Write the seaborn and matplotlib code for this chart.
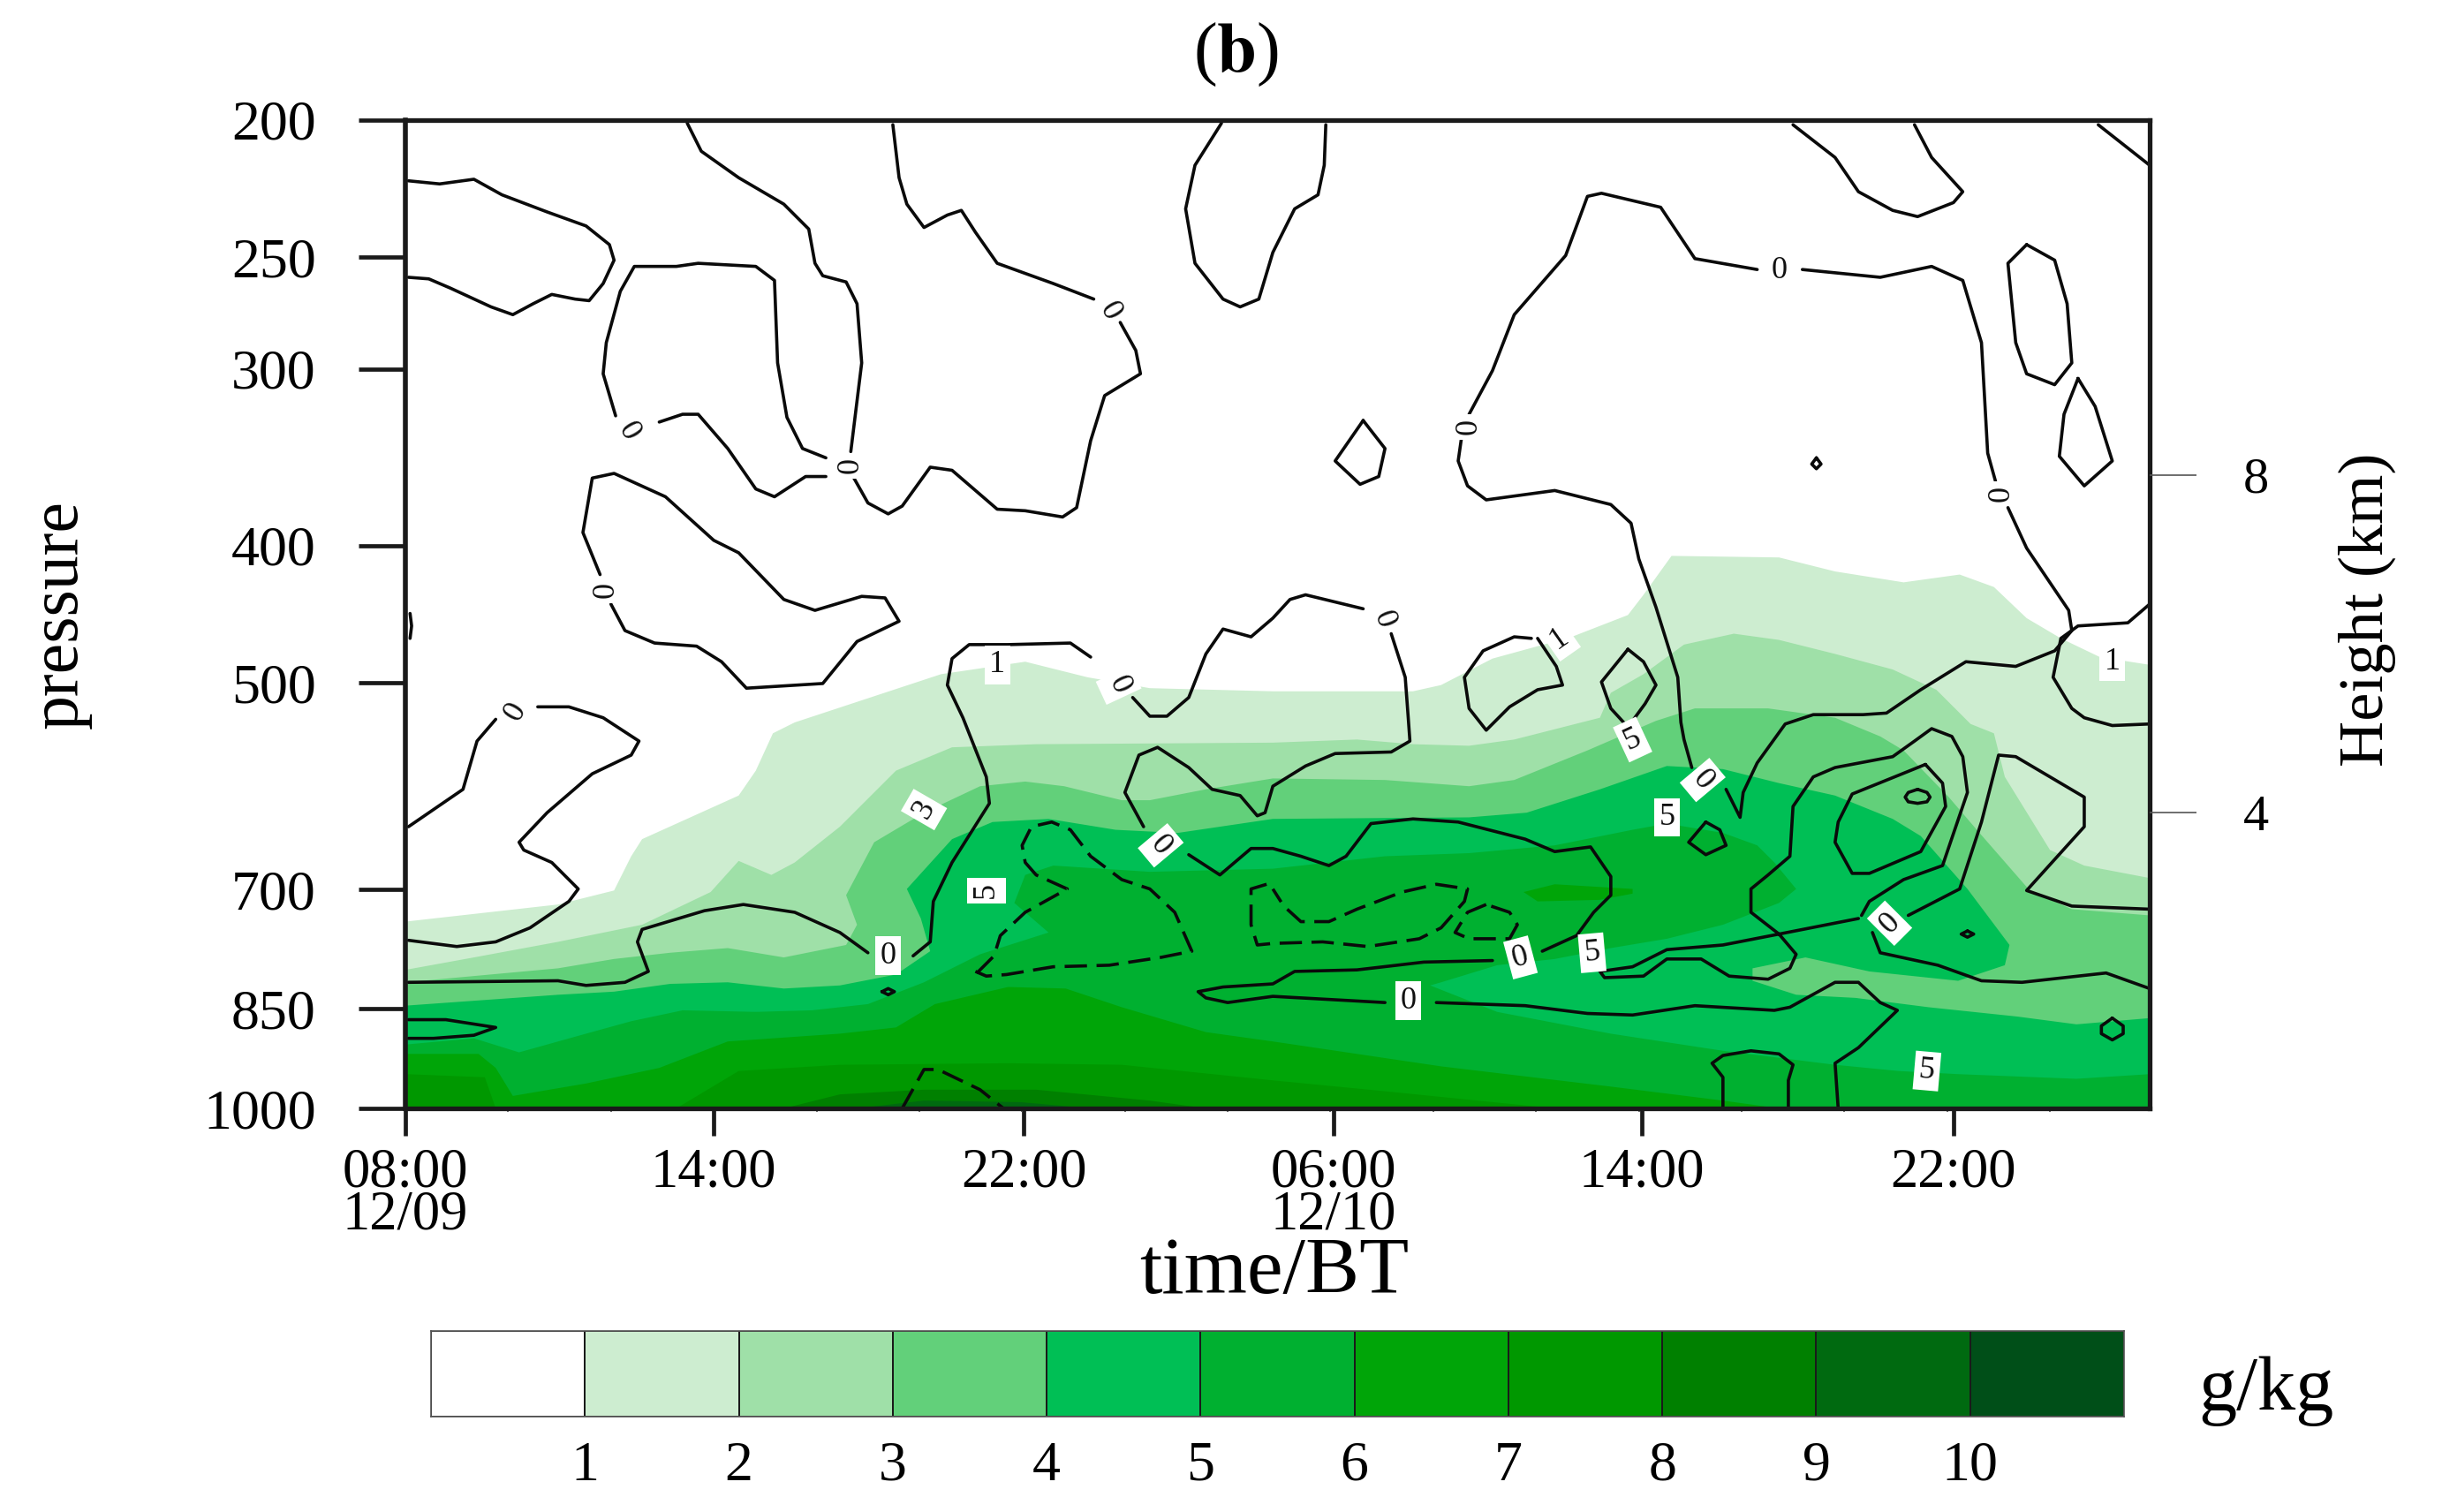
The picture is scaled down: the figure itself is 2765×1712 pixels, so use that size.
import numpy as np
import matplotlib
matplotlib.use("Agg")
import matplotlib.pyplot as plt
from matplotlib.colors import ListedColormap
from matplotlib.ticker import NullFormatter, FixedLocator
import seaborn as sns

# ---- axis values ------------------------------------------------------------
pressure_ticks = [200, 250, 300, 400, 500, 700, 850, 1000]
time_steps = [0, 198, 397, 596, 794, 994]
time_labels = ["08:00\n12/09", "14:00", "22:00", "06:00\n12/10", "14:00", "22:00"]
height_labels = ["8", "4"]
height_zeta = [407, 190]          # log-pressure height of the 8 km and 4 km marks
level_labels = ["1", "2", "3", "4", "5", "6", "7", "8", "9", "10"]
level_colors = ["#FFFFFF", "#CDEDD0", "#9FE0A8", "#62D07A", "#00BF55", "#00B030",
                "#00A508", "#009800", "#008000", "#006A10", "#004F18"]

# ---- shaded field: isolines as (time step, log-pressure height 0..635) --------
g1 = [(0,120),(98,131),(134,140),(145,162),(152,173),(214,201),(225,217),(236,241),(250,248),(344,279),(398,287),(438,277),(478,270),(557,268),(647,268),(665,272),(698,289),(749,303),(785,317),(795,330),(813,355),(882,354),(918,345),(962,338),(998,343),(1020,335),(1041,315),(1063,302),(1088,290),(1120,285),(1120,0),(0,0)]
g2 = [(0,89),(44,97),(98,107),(152,118),(196,139),(214,159),(235,150),(250,158),(279,181),(315,217),(351,232),(405,234),(557,235),(611,237),(647,234),(683,233),(712,237),(767,251),(774,267),(795,279),(821,298),(853,305),(882,301),(918,292),(955,282),(983,269),(1005,247),(1020,241),(1027,213),(1056,166),(1078,156),(1120,148),(1120,0),(0,0)]
g3 = [(0,81),(98,90),(134,96),(170,100),(207,103),(243,97),(283,105),(290,118),(283,137),(301,171),(333,190),(369,207),(398,210),(423,207),(460,198),(478,198),(514,205),(557,212),(629,211),(683,207),(712,211),(759,230),(803,249),(828,257),(875,257),(918,251),(947,239),(962,230),(991,200),(1009,179),(1043,140),(1070,128),(1120,124),(1120,0),(0,0)]
g4 = [(0,66),(98,73),(134,75),(170,80),(207,81),(243,77),(279,79),(315,86),(337,101),(331,122),(322,141),(351,173),(377,184),(413,186),(456,179),(496,177),(557,186),(683,187),(720,190),(767,205),(810,220),(846,218),(882,209),(918,201),(955,186),(973,175),(1003,141),(1030,105),(1027,92),(997,82),(940,88),(899,97),(865,90),(865,82),(893,73),(931,71),(978,65),(1035,59),(1073,54),(1120,58),(1120,0),(0,0)]
g5 = [(0,41),(44,45),(73,36),(116,48),(145,56),(178,63),(225,62),(261,63),(297,67),(333,81),(369,99),(413,113),(391,132),(398,150),(416,156),(478,152),(557,154),(593,158),(629,162),(683,164),(738,169),(788,179),(810,183),(846,177),(868,169),(879,158),(893,141),(882,132),(846,118),(810,109),(774,103),(738,96),(701,92),(665,81),(658,79),(701,62),(774,48),(846,37),(918,28),(959,24),(997,22),(1073,19),(1120,22),(1120,0),(0,0)]
g6 = [(0,35),(47,35),(58,26),(69,8),(116,16),(163,26),(207,43),(279,48),(315,52),(340,67),(387,78),(424,77),(460,65),(514,49),(557,43),(665,27),(774,14),(846,5),(882,0),(0,0)]
g6_island = [(718,139),(738,144),(788,141),(788,138),(767,134),(727,133)]
g7_left = [(0,22),(51,20),(58,0),(0,0)]
g7 = [(174,0),(214,24),(279,28),(387,29),(460,28),(557,18),(629,11),(738,0)]
g8 = [(243,0),(279,9),(333,12),(405,12),(478,5),(514,0)]
g9 = [(290,0),(333,5),(395,4),(440,0)]

# ---- black isolines ---------------------------------------------------------
c01 = [(2,596),(22,594),(44,597),(62,587),(91,576),(116,567),(131,555),(134,545),(127,530),(118,519),(109,520),(94,523),(82,517),(69,510),(55,515),(29,527),(15,533),(2,534)]
c02 = [(181,633),(190,615),(214,598),(243,581),(259,565),(263,543),(268,535),(283,531),(290,517),(293,479),(286,422)]
c03 = [(270,418),(255,424),(245,444),(239,479),(237,532),(225,541),(188,543),(174,541),(147,541),(138,525),(129,492),(127,472),(135,445)]
c04 = [(163,441),(178,446),(188,446),(207,424),(225,398),(237,393),(257,406),(270,406)]
c05 = [(288,405),(297,389),(310,382),(319,387),(337,412),(351,410),(380,385),(398,384),(422,380),(431,386),(440,429),(449,458),(472,472),(469,487),(459,505)]
c06 = [(442,520),(416,530),(380,543),(366,563),(357,577),(348,574),(333,566),(322,581),(317,598),(313,632)]
c07 = [(524,633),(507,606),(501,578),(507,543),(525,520),(536,515),(548,520),(557,550),(571,578),(586,587),(590,606),(591,632)]
c08 = [(132,324),(141,307),(160,299),(187,297),(203,287),(219,270),(268,273),(290,300),(317,313),(308,328),(293,329),(263,320),(243,327),(214,357),(198,365),(167,393),(134,408),(120,405),(114,370),(125,343)]
c09 = [(440,290),(427,299),(387,298),(362,298),(351,289),(348,272),(358,251),(373,213),(375,196),(351,158),(339,133),(337,107),(326,98)]
c10 = [(297,100),(279,113),(250,126),(217,131),(192,127),(152,115),(149,107),(156,88),(141,81),(116,79),(98,82),(2,81)]
c11 = [(467,264),(478,252),(489,252),(503,264),(514,292),(525,308),(543,303),(557,315),(568,327),(578,330),(615,321)]
c12 = [(633,305),(642,277),(644,250),(645,236),(633,229),(597,228),(578,220),(557,207),(552,190),(547,188),(536,201),(518,205),(503,219),(483,232),(471,227),(462,203),(474,181)]
c13 = [(503,163),(523,150),(543,167),(557,167),(575,162),(593,156),(604,162),(620,183),(647,186),(676,184),(719,173),(738,165),(761,168),(774,149),(774,137),(763,126),(752,111),(730,101)]
c14 = [(698,95),(654,94),(611,89),(571,88),(557,80),(525,78),(509,75),(514,71),(528,68),(557,72),(629,68)]
c15 = [(662,68),(719,66),(759,61),(788,60),(828,66),(879,63),(889,65),(918,81),(933,81),(947,68),(958,63),(933,39),(918,29),(920,0)]
c16 = [(933,122),(882,112),(846,105),(810,102),(788,91),(767,88),(770,84),(795,85),(810,96),(832,96),(850,85),(875,83),(889,90),(893,99),(882,112),(864,126),(864,141),(875,150),(889,162),(891,194),(904,213),(918,219),(955,226),(969,236),(980,244),(993,239),(1000,226),(1003,203),(987,156),(962,147),(940,133),(935,124)]
c17 = [(965,124),(998,141),(1012,184),(1023,227),(1034,226),(1078,200),(1078,181),(1041,140),(1070,130),(1120,128)]
c18 = [(942,113),(947,100),(984,92),(1012,82),(1038,81),(1092,87),(1120,77)]
c19 = [(976,221),(929,202),(920,184),(918,171),(929,151),(940,151),(973,165),(989,194),(987,209),(976,221)]
c20 = [(971,205),(977,203),(979,200),(977,197),(971,196),(965,197),(963,200),(965,203),(971,205)]
c21 = [(835,184),(824,171),(835,163),(848,169),(844,179),(835,184)]
c22 = [(1003,114),(1007,112),(1003,110),(999,112),(1003,114)]
c23 = [(1096,58),(1103,53),(1103,48),(1096,44),(1089,48),(1089,53),(1096,58)]
c24 = [(846,0),(846,20),(839,29),(846,34),(864,37),(882,35),(891,28),(888,18),(888,0)]
c25 = [(678,430),(676,416),(682,400),(694,391),(716,394),(738,397),(774,388),(787,376),(792,353),(803,322),(817,277),(819,248),(821,237),(826,219)]
c26 = [(683,446),(698,474),(712,510),(745,548),(759,586),(768,588),(806,579),(828,546),(868,539)]
c27 = [(897,539),(947,534),(980,541),(1000,532),(1012,492),(1016,421),(1021,403)]
c28 = [(1029,386),(1041,360),(1068,320),(1070,307),(1059,294),(1034,284),(1002,287),(973,269),(951,254),(936,253),(904,253),(886,247),(868,222),(859,203),(857,187),(848,205)]
c29 = [(1120,324),(1106,312),(1074,310),(1063,302),(1058,277),(1070,257),(1078,251),(1096,246),(1120,247)]
c30 = [(1041,555),(1029,543),(1034,492),(1041,472),(1059,465),(1070,479),(1067,517),(1059,545),(1041,555)]
c31 = [(1074,469),(1065,446),(1062,419),(1078,400),(1096,416),(1085,451),(1074,469)]
c32 = [(891,632),(918,611),(933,589),(955,577),(971,573),(994,582),(1000,589),(980,611),(969,632)]
c33 = [(1087,632),(1120,606)]
c34 = [(906,418),(909,414),(906,411),(903,414),(906,418)]
c35 = [(615,442),(597,416),(613,401),(625,406),(629,424),(615,442)]
c36 = [(3,318),(4,310),(3,302)]
c37 = [(85,258),(105,258),(127,251),(150,236),(145,227),(120,215),(91,190),(73,171),(76,166),(94,158),(111,141),(105,133),(80,116),(58,107),(33,104),(2,108)]
c38 = [(58,250),(46,236),(37,205),(2,181)]
c39 = [(2,57),(26,57),(58,52),(44,47),(18,45),(2,45)]
c40 = [(306,75),(310,77),(314,75),(310,73),(306,75)]
c41 = [(723,302),(712,303),(692,294),(680,277),(683,257),(694,243),(709,258),(727,269),(743,272),(739,284),(727,302)]
c42 = [(785,295),(768,274),(774,257),(785,245),(796,260),(803,272),(795,287),(785,295)]
solid_lines = [c01,c02,c03,c04,c05,c06,c07,c08,c09,c10,c11,c12,c13,c14,c15,c16,c17,c18,c19,c20,c21,c22,c23,c24,c25,c26,c27,c28,c29,c30,c31,c32,c33,c34,c35,c36,c37,c38,c39,c40,c41,c42]

d1 = [(367,87),(378,98),(382,111),(398,126),(425,141),(405,150),(398,158),(396,169),(402,181),(415,184),(427,179),(440,162),(460,147),(478,141),(494,126),(505,101),(485,97),(452,92),(416,91),(386,86),(373,85),(366,88)]
d2 = [(319,0),(333,25),(342,25),(369,12),(384,0)]
d3 = [(553,144),(543,141),(543,118),(547,105),(557,106),(589,107),(618,104),(651,109),(665,116),(680,133),(682,141),(662,144),(640,139),(611,128),(593,120),(575,120),(564,130),(557,141)]
d4 = [(694,131),(682,126),(674,113),(683,109),(709,109),(714,118),(709,126),(694,131)]
dashed_lines = [d1, d2, d3, d4]

# isoline labels: time step, height, text, angle
label_t = [143,286,452,129,71,380,458,628,683,882,1025,741,1096,788,833,810,485,333,373,310,716,762,644,953,977]
label_z = [435,413,512,333,255,285,272,314,438,538,395,302,287,237,211,187,169,192,140,98,97,100,69,119,24]
label_s = ["0","0","0","0","0","1","0","0","0","0","0","1","1","5","0","5","0","3","5","0","0","5","0","0","5"]
label_r = [-60,90,-60,90,60,0,-65,-70,90,0,90,35,0,25,-50,0,-50,60,90,0,15,5,0,45,-5]

K = np.log(5) / 635.0
def to_hpa(z):
    return 1000.0 * np.exp(-np.asarray(z, dtype=float) * K)

# ---- drawing ----------------------------------------------------------------
sns.set_theme(style="ticks")
plt.rcParams["font.family"] = ["Liberation Serif", "DejaVu Serif"]
plt.rcParams["mathtext.fontset"] = "stix"
plt.rcParams["text.color"] = "black"
plt.rcParams["axes.labelcolor"] = "black"
plt.rcParams["xtick.labelcolor"] = "black"
plt.rcParams["ytick.labelcolor"] = "black"
W, H = 2765, 1712
fig = plt.figure(figsize=(W / 100, H / 100), dpi=100)
ax = fig.add_axes([459 / W, (H - 1255) / H, (2434 - 459) / W, (1255 - 136) / H])
ax.set_yscale("log")
ax.set_xlim(0, 1120)
ax.set_ylim(1000, 200)

layers = [(g1, 1), (g2, 2), (g3, 3), (g4, 4), (g5, 5), (g6, 6), (g6_island, 6),
          (g7_left, 7), (g7, 7), (g8, 8), (g9, 9)]
for poly, k in layers:
    arr = np.array(poly, dtype=float)
    ax.fill(arr[:, 0], to_hpa(arr[:, 1]), color=level_colors[k], lw=0, zorder=1)

for line in solid_lines:
    arr = np.array(line, dtype=float)
    sns.lineplot(x=arr[:, 0], y=to_hpa(arr[:, 1]), sort=False, estimator=None, color="#0a0a0a",
                 lw=2.6, ax=ax, zorder=3)
for line in dashed_lines:
    arr = np.array(line, dtype=float)
    sns.lineplot(x=arr[:, 0], y=to_hpa(arr[:, 1]), sort=False, estimator=None, color="#0a0a0a",
                 lw=2.6, linestyle=(0, (7, 3)), ax=ax, zorder=3)

for t, z, s, r in zip(label_t, label_z, label_s, label_r):
    ax.text(t, to_hpa(z), s, rotation=r, fontsize=26, ha="center", va="center", zorder=4,
            color="#111111", bbox=dict(fc="white", ec="none", pad=4))

ax.set_yticks(pressure_ticks)
ax.yaxis.set_minor_locator(FixedLocator([]))
ax.yaxis.set_minor_formatter(NullFormatter())
ax.set_yticklabels([str(p) for p in pressure_ticks])
ax.set_xticks(time_steps)
ax.set_xticklabels(time_labels, linespacing=0.78)
ax.set_xticks(np.arange(0, 1120, 66), minor=True)
ax.tick_params(axis="y", which="major", direction="out", length=38, width=3.4, pad=35, labelsize=46, color="k")
ax.tick_params(axis="x", which="major", direction="out", length=22, width=3.4, pad=10, labelsize=45, color="k")
ax.tick_params(axis="x", which="minor", direction="out", length=3, width=1.2, color="#555555")
for side, lw in zip(["left", "top", "right", "bottom"], [4.0, 3.8, 3.8, 3.8]):
    ax.spines[side].set_visible(True)
    ax.spines[side].set_linewidth(lw)
    ax.spines[side].set_color("k")
    ax.spines[side].set_zorder(5)

ax.set_xlabel("time/BT", fontsize=66, labelpad=2)
ax.set_ylabel("pressure", fontsize=56, labelpad=0)
ax.yaxis.set_label_coords(-0.18, 0.5)
ax.xaxis.set_label_coords(0.498, -0.13)
ax.set_title(r"($\mathbf{b}$)", fontsize=58, pad=40, x=0.476)

ax2 = ax.twinx()
ax2.set_yscale("log")
ax2.set_ylim(1000, 200)
ax2.set_yticks(to_hpa(height_zeta))
ax2.yaxis.set_minor_locator(FixedLocator([]))
ax2.yaxis.set_minor_formatter(NullFormatter())
ax2.set_yticklabels(height_labels)
ax2.tick_params(axis="y", length=38, width=1.2, pad=38, labelsize=42, color="#555555")
for sp in ax2.spines.values():
    sp.set_visible(False)
ax2.grid(False)
ax2.set_ylabel("Height (km)", fontsize=52, labelpad=0)
ax2.yaxis.set_label_coords(1.108, 0.505)

# colour strip
cax = fig.add_axes([488 / W, (H - 1604) / H, (2405 - 488) / W, (1604 - 1507) / H])
strip = np.arange(len(level_colors)).reshape(1, -1)
sns.heatmap(strip, cmap=ListedColormap(level_colors), cbar=False, linewidths=1.4, linecolor="#1a1a1a",
            xticklabels=False, yticklabels=False, ax=cax)
cax.set_xticks(np.arange(1, len(level_colors)))
cax.set_xticklabels(level_labels, rotation=0)
cax.tick_params(axis="x", length=0, pad=20, labelsize=46)
cax.tick_params(axis="y", length=0)
for sp in cax.spines.values():
    sp.set_visible(True)
    sp.set_linewidth(1.2)
    sp.set_color("#555555")
cax.text(1.044, 0.3, "g/kg", transform=cax.transAxes, fontsize=62, ha="left", va="center")

fig.savefig("out.png", dpi=100)
